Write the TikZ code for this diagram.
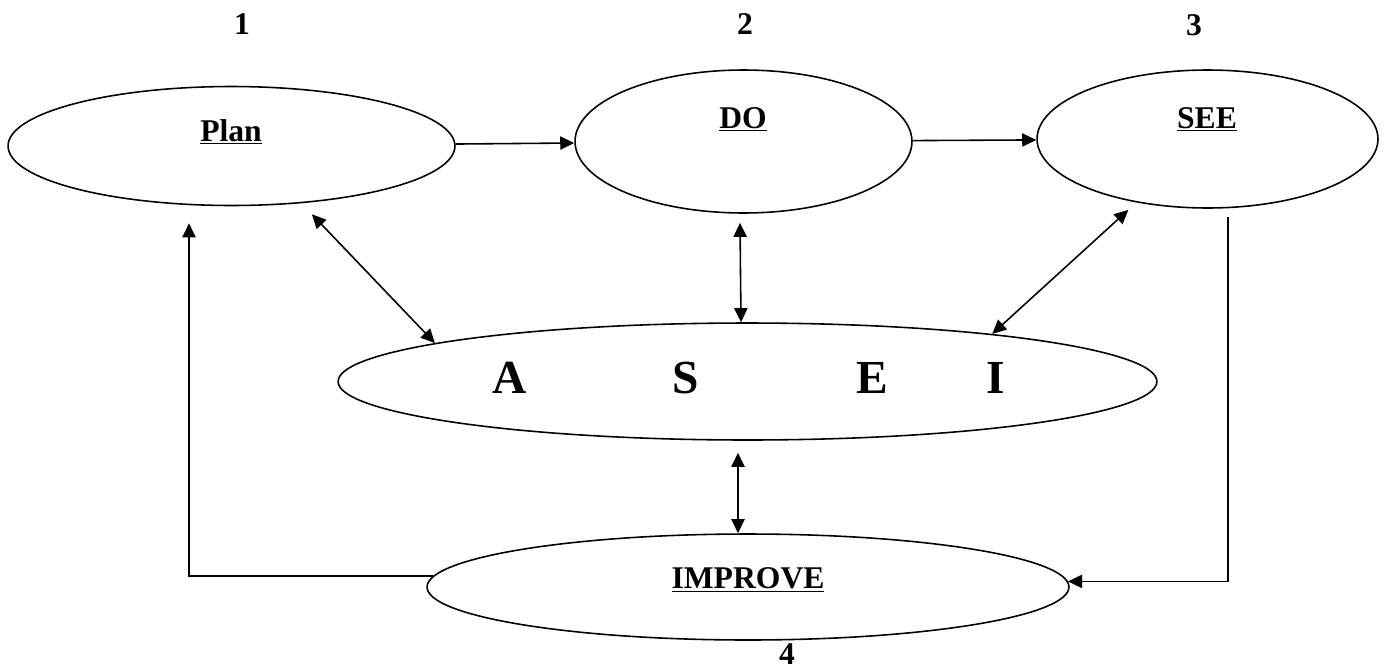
\documentclass[tikz,border=0pt]{standalone}
\usepackage{fontspec}
\setmainfont{Liberation Serif}
\usepackage{tikz}
\usetikzlibrary{shapes.geometric, arrows.meta}

\begin{document}
\begin{tikzpicture}[x=0.02cm, y=-0.02cm,
    oval/.style={draw, ellipse, line width=0.9pt, inner sep=0pt},
    lbl/.style={anchor=base, font=\fontsize{18}{20}\selectfont\bfseries},
    big/.style={anchor=base, font=\fontsize{27}{30}\selectfont\bfseries},
    arr/.style={line width=0.9pt, -{Triangle[length=8pt,width=7.5pt]}},
    dbl/.style={line width=0.9pt, {Triangle[length=8pt,width=7.5pt]}-{Triangle[length=8pt,width=7.5pt]}}]
        \path[use as bounding box] (0,0) rectangle (1385,670);

        % ellipses
        \node[oval, minimum width=8.94cm, minimum height=2.38cm] (plan) at (231.5,146) {};
        \node[oval, minimum width=6.74cm, minimum height=2.86cm] (do) at (743.5,141.5) {};
        \node[oval, minimum width=6.82cm, minimum height=2.76cm] (see) at (1207.5,139) {};
        \node[oval, minimum width=16.38cm, minimum height=2.34cm] (asei) at (747.5,381.5) {};
        \node[oval, minimum width=12.84cm, minimum height=2.12cm] (improve) at (748,587) {};

        % texts
        \node[lbl] (plantxt) at (231,141) {\underline{Plan}};
        \node[lbl] (dotxt) at (743,128) {\underline{DO}};
        \node[lbl] (seetxt) at (1207,128) {\underline{SEE}};
        \node[lbl] (improvetxt) at (748,588) {\underline{IMPROVE}};

        \node[big] (a) at (510,393) {A};
        \node[big] (s) at (686,393) {S};
        \node[big] (e) at (872,393) {E};
        \node[big] (i) at (996,393) {I};

        \node[lbl] (n1) at (242,34) {1};
        \node[lbl] (n2) at (745,34) {2};
        \node[lbl] (n3) at (1194,35) {3};
        \node[lbl] (n4) at (787,664) {4};

        % arrows
        \draw[arr] (plan) -- (do);
        \draw[arr] (do) -- (see);
        \draw[dbl] ([shift={(0,12)}]plan.-35) -- (asei.173.5);
        \draw[dbl] ([shift={(-3.5,9)}]do.south) -- ([shift={(-6.5,0)}]asei.north);
        \draw[dbl] ([shift={(0,9)}]see.218) -- (asei.11);
        \draw[dbl] ([shift={(-9.5,12)}]asei.south) -- ([shift={(-10,0)}]improve.north);
        \draw[arr] (improve.178.5) -| ([shift={(-42.5,17)}]plan.south);
        \draw[arr] ([shift={(20.5,8)}]see.south) |- (improve.1.5);
    \end{tikzpicture}
\end{document}
